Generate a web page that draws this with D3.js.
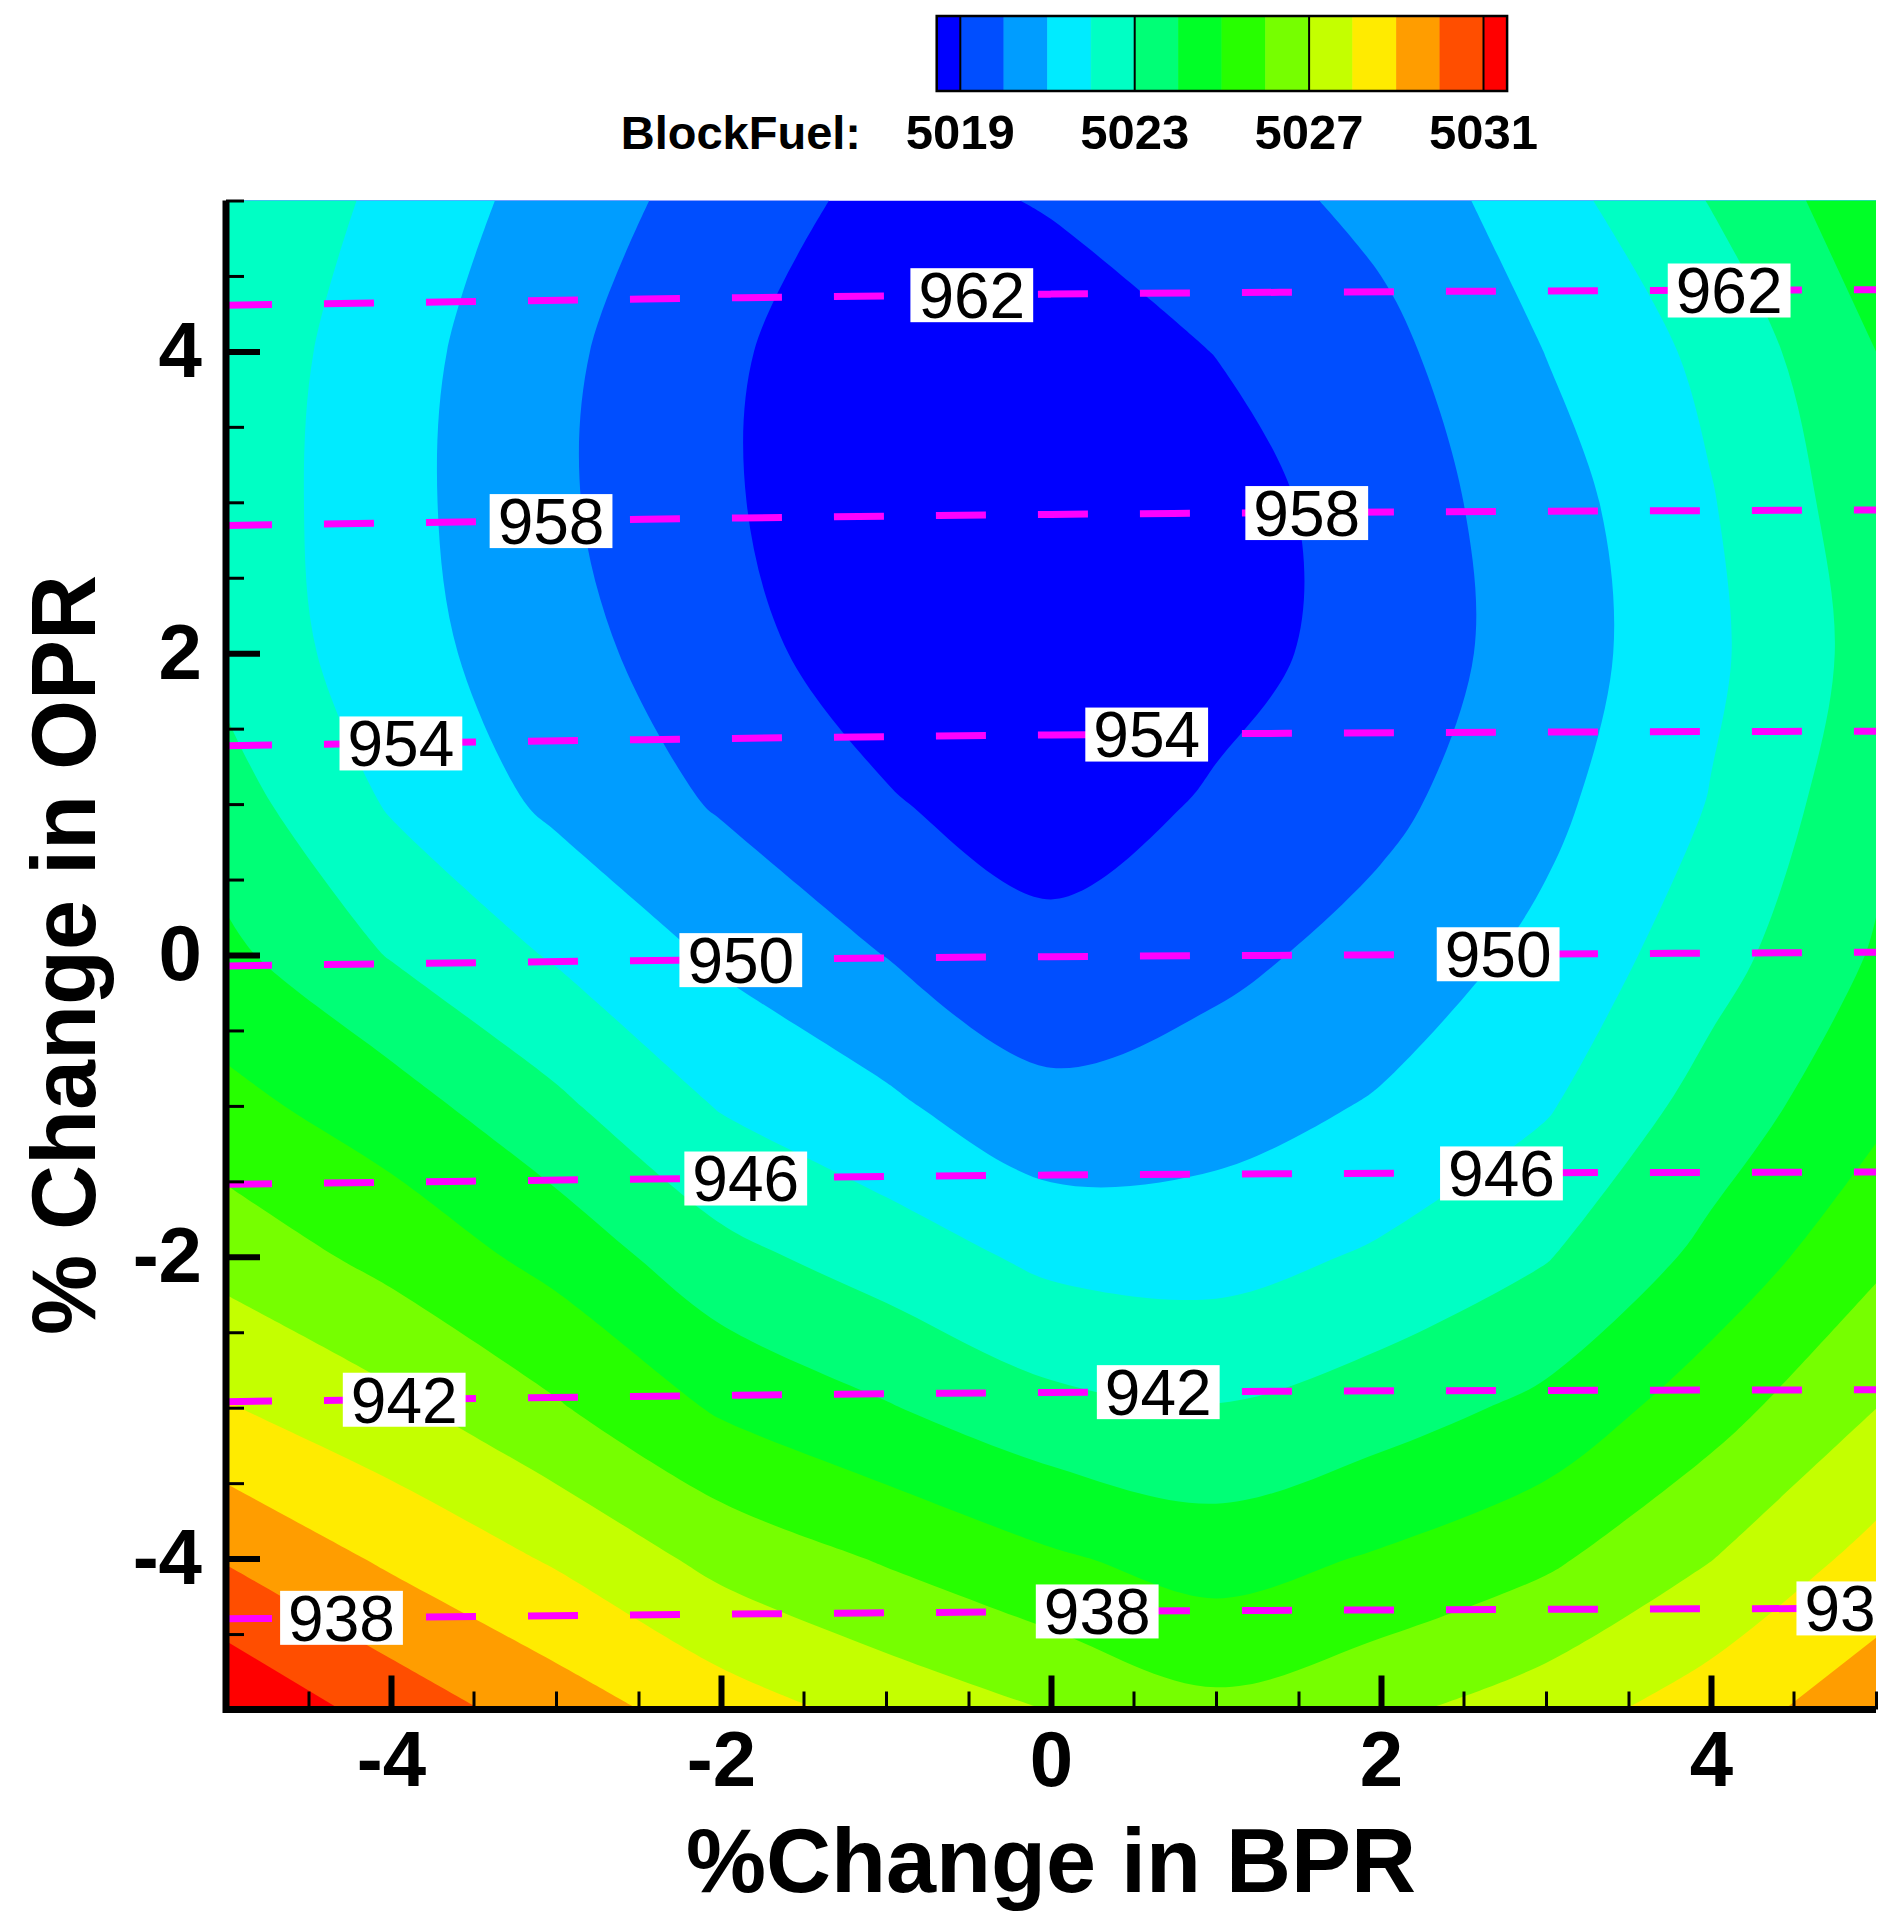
<!doctype html>
<html>
<head>
<meta charset="utf-8">
<title>BlockFuel vs BPR / OPR</title>
<script src="https://d3js.org/d3.v7.min.js"></script>
<style>
  body { margin: 0; background: #fff; }
  text { font-family: "Liberation Sans", Arial, Helvetica, sans-serif; }
</style>
</head>
<body>
<script>
// % change in BPR (columns) and OPR (rows, listed top to bottom)
var bpr = [-5, -4, -3, -2, -1, 0, 1, 2, 3, 4, 5];
var opr = [5, 4, 3, 2, 1, 0, -1, -2, -3, -4, -5];

// BlockFuel, one row per OPR value
var blockFuel = [
  [5022.95, 5021.75, 5020.56, 5019.57, 5018.70, 5019.07, 5019.50, 5020.30, 5021.58, 5023.05, 5024.70],
  [5022.68, 5021.40, 5020.22, 5019.15, 5018.40, 5018.50, 5019.02, 5019.70, 5021.02, 5022.25, 5024.00],
  [5022.60, 5021.33, 5020.16, 5019.11, 5018.40, 5018.40, 5018.59, 5019.45, 5020.55, 5021.94, 5023.60],
  [5022.70, 5021.43, 5020.37, 5019.40, 5018.42, 5018.30, 5018.62, 5019.42, 5020.45, 5021.80, 5023.40],
  [5023.42, 5021.90, 5020.80, 5019.90, 5019.10, 5018.40, 5019.14, 5019.75, 5020.75, 5022.05, 5023.70],
  [5024.23, 5022.94, 5021.90, 5020.85, 5019.98, 5019.35, 5019.72, 5020.38, 5021.25, 5022.59, 5024.10],
  [5025.30, 5024.45, 5023.19, 5021.93, 5021.19, 5020.22, 5020.55, 5021.10, 5021.90, 5023.40, 5024.74],
  [5026.64, 5025.68, 5024.67, 5023.30, 5022.53, 5021.76, 5021.60, 5022.14, 5022.94, 5024.27, 5025.79],
  [5028.07, 5027.24, 5026.10, 5024.86, 5024.07, 5023.28, 5023.04, 5023.54, 5024.25, 5025.58, 5026.99],
  [5029.92, 5028.82, 5027.88, 5026.68, 5025.90, 5025.14, 5024.55, 5025.11, 5025.81, 5026.97, 5028.34],
  [5031.90, 5030.60, 5029.50, 5028.50, 5027.66, 5026.97, 5026.25, 5026.80, 5027.53, 5028.52, 5029.60]
];

var levels = [5019, 5020, 5021, 5022, 5023, 5024, 5025, 5026, 5027, 5028, 5029, 5030, 5031];
var bandColors = ["#0000ff", "#004eff", "#009dff", "#00ebff", "#00ffc4", "#00ff76", "#00ff27",
                  "#27ff00", "#76ff00", "#c4ff00", "#ffeb00", "#ff9d00", "#ff4e00", "#ff0000"];
var legendTicks = [5019, 5023, 5027, 5031];

// second quantity (dashed magenta lines), coarse grid in BPR
var lineBpr = [-5, 0, 5];
var lineGrid = [
  [963.91, 963.70, 963.62],
  [961.16, 960.96, 960.88],
  [958.42, 958.22, 958.14],
  [955.68, 955.48, 955.41],
  [952.94, 952.75, 952.68],
  [950.20, 950.03, 949.95],
  [947.44, 947.27, 947.21],
  [944.67, 944.50, 944.45],
  [941.89, 941.72, 941.67],
  [939.11, 938.97, 938.91],
  [936.33, 936.21, 936.15]
];
var lineLevels = [938, 942, 946, 950, 954, 958, 962];
// [level, BPR where the label sits]
var lineLabels = [
  [962, -0.48], [962, 4.11], [958, -3.03], [958, 1.55], [954, -3.94], [954, 0.58],
  [950, -1.88], [950, 2.71], [946, -1.85], [946, 2.73], [942, -3.92], [942, 0.65],
  [938, -4.30], [938, 0.28], [938, 4.89]
];

var majorTicks = [-4, -2, 0, 2, 4];
var minorTicks = [-5, -4.5, -3.5, -3, -2.5, -1.5, -1, -0.5, 0.5, 1, 1.5, 2.5, 3, 3.5, 4.5, 5];

var W = 1896, H = 1932;
var svg = d3.select("body").append("svg").attr("width", W).attr("height", H);

var x = d3.scaleLinear().domain([-5, 5]).range([226, 1876]);
var y = d3.scaleLinear().domain([-5, 5]).range([1709.5, 200.5]);

svg.append("defs").append("clipPath").attr("id", "plotClip")
  .append("rect")
  .attr("x", x(-5)).attr("y", y(5))
  .attr("width", x(5) - x(-5)).attr("height", y(-5) - y(5));

var plot = svg.append("g").attr("clip-path", "url(#plotClip)");

// filled BlockFuel bands
plot.append("rect")
  .attr("x", x(-5)).attr("y", y(5))
  .attr("width", x(5) - x(-5)).attr("height", y(-5) - y(5))
  .attr("fill", bandColors[0]);

var fuelContours = d3.contours()
  .size([bpr.length, opr.length])
  .thresholds(levels)(blockFuel.flat());

var nx = bpr.length, ny = opr.length;
var sx = bpr[1] - bpr[0], sy = opr[1] - opr[0];
var eps = 1e-9;

function toScreen(p) {
  return [x(bpr[0] + (p[0] - 0.5) * sx), y(opr[0] + (p[1] - 0.5) * sy)];
}

var smoothOpen = d3.line().curve(d3.curveCatmullRom.alpha(0.5));
var smoothClosed = d3.line().curve(d3.curveCatmullRomClosed.alpha(0.5));

// border parts of a ring stay straight, the contour parts are smoothed
function ringPath(ring) {
  var pts = ring.slice(0, -1).map(function(p) {
    return [Math.max(0.5, Math.min(nx - 0.5, p[0])), Math.max(0.5, Math.min(ny - 0.5, p[1]))];
  });
  var edge = pts.map(function(p) {
    return p[0] <= 0.5 + eps || p[0] >= nx - 0.5 - eps || p[1] <= 0.5 + eps || p[1] >= ny - 0.5 - eps;
  });
  var start = edge.indexOf(true);
  if (start < 0) return smoothClosed(pts.map(toScreen)) + "Z";
  var seq = pts.slice(start).concat(pts.slice(0, start + 1));
  var onE = edge.slice(start).concat(edge.slice(0, start + 1));
  var first = toScreen(seq[0]);
  var d = "M" + first[0] + "," + first[1];
  var i = 0, n = seq.length;
  while (i < n - 1) {
    if (!onE[i + 1]) {
      var j = i + 1;
      while (j < n - 1 && !onE[j]) j++;
      var run = seq.slice(i, j + 1).map(toScreen);
      d += smoothOpen(run).replace(/^M/, "L");
      i = j;
    } else {
      var q = toScreen(seq[i + 1]);
      d += "L" + q[0] + "," + q[1];
      i++;
    }
  }
  return d + "Z";
}

plot.selectAll("path.band")
  .data(fuelContours)
  .enter()
  .append("path")
  .attr("class", "band")
  .attr("d", function(c) {
    return c.coordinates.map(function(poly) { return poly.map(ringPath).join(""); }).join("");
  })
  .attr("fill", function(d, i) { return bandColors[i + 1]; });

// dashed lines: keep only the interior part of each contour ring
var lineContours = d3.contours()
  .size([lineBpr.length, opr.length])
  .thresholds(lineLevels)(lineGrid.flat());

function interiorPoints(contour) {
  var lx = lineBpr.length, ly = opr.length;
  var lsx = lineBpr[1] - lineBpr[0];
  var seen = {}, pts = [];
  contour.coordinates.forEach(function(poly) {
    poly.forEach(function(ring) {
      ring.forEach(function(p) {
        if (p[0] > 0 && p[0] < lx && p[1] > 0 && p[1] < ly) {
          var k = p[0] + "," + p[1];
          if (!seen[k]) {
            seen[k] = true;
            pts.push([lineBpr[0] + (p[0] - 0.5) * lsx, opr[0] + (p[1] - 0.5) * sy]);
          }
        }
      });
    });
  });
  pts.sort(function(a, b) { return a[0] - b[0]; });
  return pts;
}

var linesByLevel = {};
lineContours.forEach(function(c) { linesByLevel[c.value] = interiorPoints(c); });

var line = d3.line()
  .curve(d3.curveMonotoneX)
  .x(function(d) { return x(d[0]); })
  .y(function(d) { return y(d[1]); });

plot.selectAll("path.dash")
  .data(lineLevels)
  .enter()
  .append("path")
  .attr("class", "dash")
  .attr("d", function(v) { return line(linesByLevel[v]); })
  .attr("fill", "none")
  .attr("stroke", "#ff00ff")
  .attr("stroke-width", 7)
  .attr("stroke-dasharray", "50,52")
  .attr("stroke-dashoffset", 4);

function yOnLine(v, xv) {
  var pts = linesByLevel[v];
  for (var i = 0; i < pts.length - 1; i++) {
    var a = pts[i], b = pts[i + 1];
    if (xv >= a[0] && xv <= b[0]) {
      var t = (b[0] - a[0]) === 0 ? 0 : (xv - a[0]) / (b[0] - a[0]);
      return a[1] + t * (b[1] - a[1]);
    }
  }
  return pts[pts.length - 1][1];
}

// labels on the dashed lines
var labelFont = 64;
var lab = plot.selectAll("g.lab")
  .data(lineLabels)
  .enter()
  .append("g")
  .attr("class", "lab")
  .attr("transform", function(d) {
    return "translate(" + x(d[1]) + "," + y(yOnLine(d[0], d[1])) + ")";
  });

lab.append("rect").attr("fill", "#fff");
lab.append("text")
  .attr("text-anchor", "middle")
  .attr("y", labelFont * 0.358)
  .attr("font-size", labelFont)
  .attr("fill", "#000")
  .text(function(d) { return d[0]; });

lab.each(function() {
  var g = d3.select(this);
  var tw = g.select("text").node().getComputedTextLength();
  g.select("rect")
    .attr("x", -tw / 2 - 8).attr("width", tw + 16)
    .attr("y", -27).attr("height", 54);
});

// axes: minor + major ticks pointing inward
function styleAxis(g) {
  g.select(".domain").remove();
  g.attr("font-family", null).attr("font-size", null);
}

svg.append("g")
  .attr("transform", "translate(0," + y(-5) + ")")
  .call(d3.axisBottom(x).tickValues(minorTicks).tickSizeInner(-18).tickSizeOuter(0).tickFormat(""))
  .call(styleAxis)
  .selectAll("line").attr("stroke", "#000").attr("stroke-width", 3);

var xMajor = svg.append("g")
  .attr("transform", "translate(0," + y(-5) + ")")
  .call(d3.axisBottom(x).tickValues(majorTicks).tickSizeInner(-34).tickSizeOuter(0)
    .tickPadding(21).tickFormat(function(d) { return String(d); }))
  .call(styleAxis);
xMajor.selectAll("line").attr("stroke", "#000").attr("stroke-width", 6);
xMajor.selectAll("text").attr("font-size", 78).attr("font-weight", "bold").attr("fill", "#000");

svg.append("g")
  .attr("transform", "translate(" + x(-5) + ",0)")
  .call(d3.axisLeft(y).tickValues(minorTicks).tickSizeInner(-18).tickSizeOuter(0).tickFormat(""))
  .call(styleAxis)
  .selectAll("line").attr("stroke", "#000").attr("stroke-width", 3);

var yMajor = svg.append("g")
  .attr("transform", "translate(" + x(-5) + ",0)")
  .call(d3.axisLeft(y).tickValues(majorTicks).tickSizeInner(-34).tickSizeOuter(0)
    .tickPadding(24).tickFormat(function(d) { return String(d); }))
  .call(styleAxis);
yMajor.selectAll("line").attr("stroke", "#000").attr("stroke-width", 6);
yMajor.selectAll("text").attr("font-size", 78).attr("font-weight", "bold").attr("fill", "#000");

// axis lines (left and bottom only)
svg.append("path")
  .attr("d", "M" + x(-5) + "," + y(5) + "V" + y(-5) + "H" + x(5))
  .attr("fill", "none")
  .attr("stroke", "#000")
  .attr("stroke-width", 7)
  .attr("stroke-linejoin", "miter");

// axis titles
svg.append("text")
  .attr("x", x(0)).attr("y", 1892)
  .attr("text-anchor", "middle")
  .attr("font-size", 90).attr("font-weight", "bold")
  .text("%Change in BPR");

svg.append("text")
  .attr("transform", "translate(95," + y(0) + ") rotate(-90)")
  .attr("text-anchor", "middle")
  .attr("font-size", 90).attr("font-weight", "bold")
  .text("% Change in OPR");

// legend
var lg = d3.scaleLinear().domain([levels[0], levels[levels.length - 1]]).range([960.3, 1483.5]);
var endCell = 23.6, barTop = 16, barH = 75;
var legend = svg.append("g");

legend.selectAll("rect.cell")
  .data(bandColors)
  .enter()
  .append("rect")
  .attr("class", "cell")
  .attr("x", function(d, i) { return i === 0 ? lg(levels[0]) - endCell : lg(levels[i - 1]); })
  .attr("width", function(d, i) {
    if (i === 0 || i === bandColors.length - 1) return endCell;
    return lg(levels[i]) - lg(levels[i - 1]);
  })
  .attr("y", barTop).attr("height", barH)
  .attr("fill", function(d) { return d; })
  .attr("stroke", function(d) { return d; })
  .attr("stroke-width", 0.6);

legend.append("rect")
  .attr("x", lg(levels[0]) - endCell).attr("y", barTop)
  .attr("width", lg(levels[levels.length - 1]) - lg(levels[0]) + 2 * endCell)
  .attr("height", barH)
  .attr("fill", "none").attr("stroke", "#000").attr("stroke-width", 2.5);

legend.selectAll("line.sep")
  .data(legendTicks)
  .enter()
  .append("line")
  .attr("class", "sep")
  .attr("x1", function(d) { return lg(d); }).attr("x2", function(d) { return lg(d); })
  .attr("y1", barTop).attr("y2", barTop + barH)
  .attr("stroke", "#000").attr("stroke-width", 2);

legend.selectAll("text.val")
  .data(legendTicks)
  .enter()
  .append("text")
  .attr("class", "val")
  .attr("x", function(d) { return lg(d); }).attr("y", 149)
  .attr("text-anchor", "middle")
  .attr("font-size", 49).attr("font-weight", "bold")
  .text(function(d) { return d; });

legend.append("text")
  .attr("x", 861).attr("y", 149)
  .attr("text-anchor", "end")
  .attr("font-size", 47).attr("font-weight", "bold")
  .text("BlockFuel:");
</script>
</body>
</html>
